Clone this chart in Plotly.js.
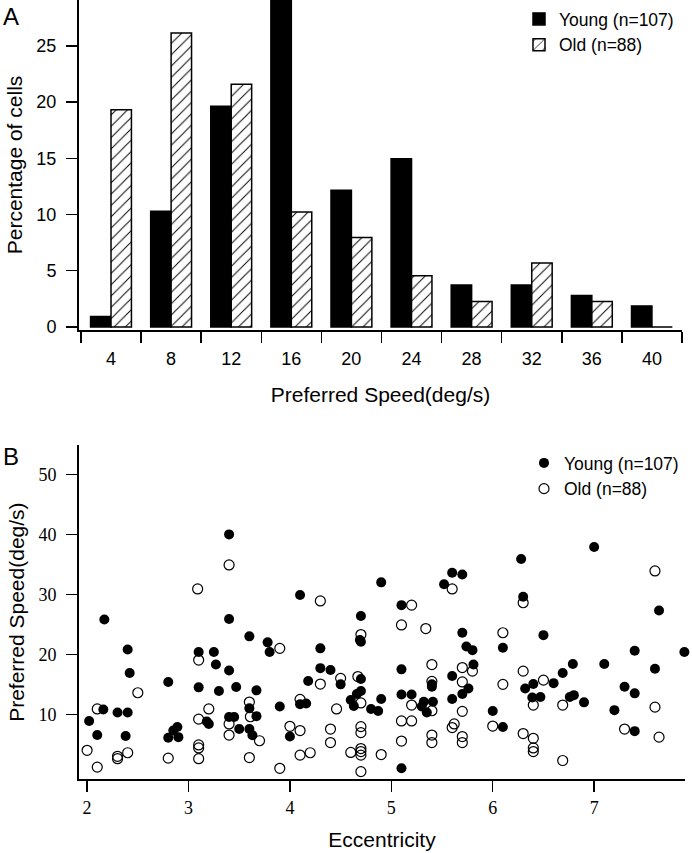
<!DOCTYPE html>
<html>
<head>
<meta charset="utf-8">
<script src="https://cdn.plot.ly/plotly-3.0.1.min.js"></script>
<style>
html,body{margin:0;padding:0;background:#fff;}
#chart{width:692px;height:853px;}
</style>
</head>
<body>
<div id="chart"></div>
<script>
// ---- Panel A: histogram of preferred speed ----
const speedBins = [4, 8, 12, 16, 20, 24, 28, 32, 36, 40];
const binEdges = [2, 6, 10, 14, 18, 22, 26, 30, 34, 38, 42];
const binLabels = ["4", "8", "12", "16", "20", "24", "28", "32", "36", "40", ""];
const youngPct = [0.93, 10.28, 19.63, 29.91, 12.15, 14.95, 3.74, 3.74, 2.80, 1.87];
const oldPct = [19.32, 26.14, 21.59, 10.23, 7.95, 4.55, 2.27, 5.68, 2.27, 0];
const pctTicks = [0, 5, 10, 15, 20, 25];

// ---- Panel B: preferred speed vs eccentricity ----
const youngEcc = [2.02, 2.10, 2.16, 2.17, 2.30, 2.38, 2.40, 2.40, 2.42, 2.80,
  2.80, 2.85, 2.89, 2.90, 3.10, 3.10, 3.18, 3.20, 3.40, 3.40,
  3.60, 3.78, 3.80, 4.10, 4.30, 4.30, 4.18, 4.10, 4.16, 3.25,
  3.27, 3.40, 3.30, 3.47, 3.67, 3.90, 3.60, 3.67, 3.40, 3.45,
  3.50, 3.60, 3.63, 4.00, 4.90, 4.70, 4.69, 4.70, 4.40, 4.50,
  4.70, 4.70, 4.66, 4.60, 4.63, 4.80, 4.87, 4.90, 5.10, 5.10,
  5.10, 5.20, 5.40, 5.40, 5.32, 5.41, 5.30, 5.35, 5.10, 5.52,
  5.60, 5.70, 6.28, 6.30, 5.70, 6.50, 5.74, 5.80, 6.10, 5.81,
  5.60, 5.76, 5.70, 5.60, 6.00, 6.10, 6.32, 6.40, 6.39, 6.47,
  6.60, 6.69, 7.00, 7.64, 7.40, 7.89, 6.79, 7.10, 7.60, 7.30,
  7.40, 6.76, 6.80, 6.90, 7.20, 7.40];
const youngSpeed = [8.9, 6.55, 10.8, 25.8, 10.3, 6.4, 10.3, 20.8, 16.9, 15.4,
  6.1, 7.3, 7.9, 6.2, 20.4, 14.5, 8.8, 8.4, 40.0, 25.9,
  23.0, 22.0, 20.4, 29.9, 21.0, 17.7, 15.55, 11.7, 11.8, 20.4,
  18.3, 17.3, 13.9, 14.55, 14.0, 11.3, 11.0, 9.7, 9.55, 9.55,
  7.55, 7.55, 6.5, 6.3, 32.0, 26.4, 22.4, 22.1, 17.4, 15.0,
  15.9, 13.9, 13.4, 12.4, 11.4, 10.9, 10.55, 12.55, 17.5, 28.2,
  13.3, 13.3, 15.0, 14.6, 12.1, 12.1, 11.3, 10.3, 1.0, 31.7,
  33.6, 33.3, 35.9, 29.6, 23.6, 23.2, 21.3, 20.7, 21.1, 18.3,
  16.4, 14.3, 13.4, 12.55, 10.55, 7.9, 14.3, 15.05, 12.8, 12.9,
  15.2, 16.9, 37.9, 27.3, 20.6, 20.4, 18.4, 18.4, 17.6, 14.6,
  13.5, 12.9, 13.2, 12.0, 10.7, 7.2];
const oldEcc = [3.09, 2.10, 2.50, 2.00, 2.10, 2.30, 2.30, 2.40, 2.80, 3.10,
  3.10, 3.10, 3.10, 3.10, 3.40, 3.90, 3.60, 3.61, 3.20, 3.40,
  3.40, 3.70, 3.60, 3.90, 4.00, 4.10, 4.10, 4.10, 4.20, 4.30,
  4.30, 5.20, 5.10, 5.34, 4.70, 5.40, 4.50, 4.67, 4.70, 4.46,
  5.20, 5.40, 5.10, 5.20, 4.40, 4.70, 4.70, 4.40, 5.10, 5.40,
  5.40, 4.60, 4.70, 4.70, 4.70, 4.90, 4.70, 5.60, 6.30, 6.10,
  5.70, 5.80, 5.70, 6.10, 6.30, 6.50, 6.40, 5.70, 6.00, 5.62,
  5.60, 5.70, 5.70, 6.30, 6.40, 6.40, 6.40, 6.69, 6.69, 7.60,
  7.60, 7.30, 7.64, 5.40];
const oldSpeed = [30.9, 10.9, 13.6, 4.0, 1.2, 3.0, 2.6, 3.6, 2.7, 19.05,
  9.2, 4.9, 4.4, 2.6, 34.9, 21.0, 12.05, 9.6, 10.9, 8.4,
  6.55, 5.6, 2.8, 1.0, 8.0, 7.3, 12.5, 3.2, 3.6, 28.9,
  15.05, 28.2, 24.9, 24.3, 23.3, 18.3, 16.0, 16.3, 11.9, 10.9,
  11.55, 10.6, 8.9, 8.9, 7.55, 7.95, 6.95, 5.3, 5.55, 6.55,
  5.3, 3.65, 4.3, 3.8, 3.2, 3.3, 0.45, 30.9, 28.6, 23.6,
  17.8, 17.2, 15.4, 15.0, 17.2, 15.7, 11.55, 10.5, 8.05, 8.4,
  7.8, 6.3, 5.3, 6.8, 6.0, 4.4, 3.8, 11.55, 2.3, 33.9,
  11.2, 7.55, 6.2, 15.5];
const eccTicks = [2, 3, 4, 5, 6, 7];
const speedTicks = [10, 20, 30, 40, 50];

const W = 692, H = 853;
const sans = "Liberation Sans, Arial, Helvetica, sans-serif";
const serif = "Liberation Serif, Times New Roman, serif";
const px = v => v / W;
const py = v => 1 - v / H;

const traces = [
  {type: "bar", x: speedBins, y: youngPct, name: "Young (n=107)",
   marker: {color: "#000", line: {color: "#000", width: 1.5}},
   xaxis: "x", yaxis: "y", legend: "legend", hoverinfo: "none"},
  {type: "bar", x: speedBins, y: oldPct, name: "Old (n=88)",
   marker: {color: "#fff", line: {color: "#000", width: 1.5},
            pattern: {shape: "/", fgcolor: "#000", bgcolor: "#fff", size: 8, solidity: 0.12}},
   xaxis: "x", yaxis: "y", legend: "legend", hoverinfo: "none"},
  {type: "scatter", mode: "markers", x: youngEcc, y: youngSpeed, name: "Young (n=107)",
   marker: {symbol: "circle", size: 10, color: "#000"},
   xaxis: "x2", yaxis: "y2", legend: "legend2", cliponaxis: false, hoverinfo: "none"},
  {type: "scatter", mode: "markers", x: oldEcc, y: oldSpeed, name: "Old (n=88)",
   marker: {symbol: "circle-open", size: 10, color: "#000", line: {width: 1.2, color: "#000"}},
   xaxis: "x2", yaxis: "y2", legend: "legend2", cliponaxis: false, hoverinfo: "none"}
];

const axisBase = {showgrid: false, zeroline: false, showline: true, linecolor: "#000",
  linewidth: 2, ticks: "outside", tickcolor: "#000", tickwidth: 1.5, ticklen: 11,
  fixedrange: true};

const layout = {
  width: W, height: H,
  margin: {l: 0, r: 0, t: 0, b: 0, pad: 0},
  paper_bgcolor: "#fff", plot_bgcolor: "#fff",
  showlegend: true,
  barmode: "group", bargap: 0.32, bargroupgap: 0,
  font: {family: sans, color: "#000", size: 18},
  xaxis: Object.assign({}, axisBase, {
    domain: [px(79), px(682)], range: [1.87, 42], anchor: "y",
    tickmode: "array", tickvals: binEdges, ticktext: binLabels, ticklabelshift: 30,
    tickfont: {family: sans, size: 18},
    title: {text: "Preferred Speed(deg/s)", font: {family: sans, size: 21}, standoff: 20}
  }),
  yaxis: Object.assign({}, axisBase, {
    domain: [py(330), 1], range: [-0.27, 29.07], anchor: "x",
    tickmode: "array", tickvals: pctTicks, ticklabelstandoff: 6,
    tickfont: {family: sans, size: 18},
    title: {text: "Percentage of cells", font: {family: sans, size: 21}, standoff: 8}
  }),
  xaxis2: Object.assign({}, axisBase, {
    domain: [px(79), px(685)], range: [1.92, 7.896], anchor: "y2",
    tickmode: "array", tickvals: eccTicks,
    tickfont: {family: serif, size: 18},
    title: {text: "Eccentricity", font: {family: sans, size: 21}, standoff: 15}
  }),
  yaxis2: Object.assign({}, axisBase, {
    domain: [py(779.3), py(445)], range: [-0.83, 54.9], anchor: "x2",
    tickmode: "array", tickvals: speedTicks, ticklabelstandoff: 6,
    tickfont: {family: serif, size: 18},
    title: {text: "Preferred Speed(deg/s)", font: {family: sans, size: 21}, standoff: 8}
  }),
  legend: {x: px(519), y: py(1), xanchor: "left", yanchor: "top",
    bgcolor: "rgba(0,0,0,0)", borderwidth: 0, font: {family: sans, size: 17.5},
    traceorder: "normal", itemclick: false, itemdoubleclick: false},
  legend2: {x: px(524), y: py(445), xanchor: "left", yanchor: "top",
    bgcolor: "rgba(0,0,0,0)", borderwidth: 0, font: {family: sans, size: 17.5},
    traceorder: "normal", itemclick: false, itemdoubleclick: false},
  annotations: [
    {text: "A", xref: "paper", yref: "paper", x: px(1), y: py(1), xanchor: "left", yanchor: "top",
     showarrow: false, font: {family: sans, size: 24}},
    {text: "B", xref: "paper", yref: "paper", x: px(1), y: py(441), xanchor: "left", yanchor: "top",
     showarrow: false, font: {family: sans, size: 24}}
  ]
};

Plotly.newPlot("chart", traces, layout, {displayModeBar: false, staticPlot: true});
</script>
</body>
</html>
